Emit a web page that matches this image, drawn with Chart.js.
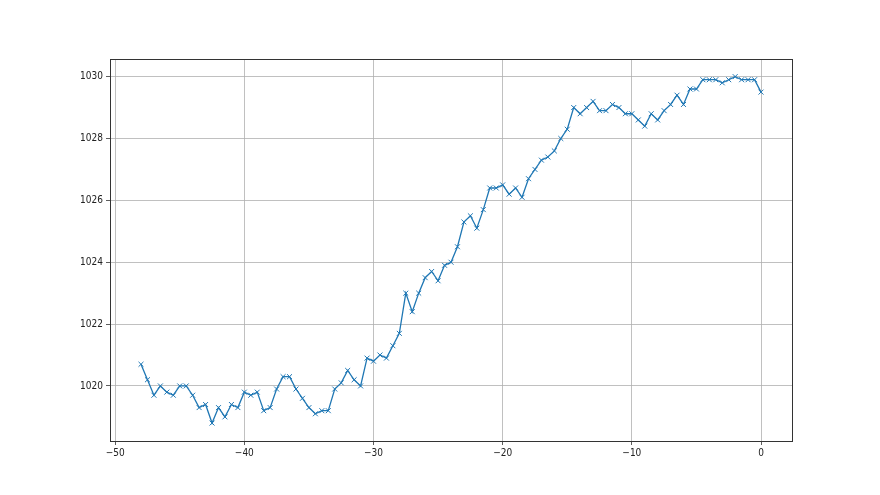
<!DOCTYPE html>
<html>
<head>
<meta charset="utf-8">
<script src="https://cdn.jsdelivr.net/npm/chart.js@4.4.0/dist/chart.umd.min.js"></script>
<style>
  body { margin: 0; background: #fff; }
  #wrap { width: 880px; height: 495px; }
</style>
</head>
<body>
<div id="wrap"><canvas id="chart"></canvas></div>
<script>
// tiempo (x) y presion (y)
var horas = [
  -48, -47.5, -47, -46.5, -46, -45.5, -45, -44.5, -44, -43.5,
  -43, -42.5, -42, -41.5, -41, -40.5, -40, -39.5, -39, -38.5,
  -38, -37.5, -37, -36.5, -36, -35.5, -35, -34.5, -34, -33.5,
  -33, -32.5, -32, -31.5, -31, -30.5, -30, -29.5, -29, -28.5,
  -28, -27.5, -27, -26.5, -26, -25.5, -25, -24.5, -24, -23.5,
  -23, -22.5, -22, -21.5, -21, -20.5, -20, -19.5, -19, -18.5,
  -18, -17.5, -17, -16.5, -16, -15.5, -15, -14.5, -14, -13.5,
  -13, -12.5, -12, -11.5, -11, -10.5, -10, -9.5, -9, -8.5,
  -8, -7.5, -7, -6.5, -6, -5.5, -5, -4.5, -4, -3.5,
  -3, -2.5, -2, -1.5, -1, -0.5, 0
];
var presion = [
  1020.7, 1020.2, 1019.7, 1020.0, 1019.8, 1019.7, 1020.0, 1020.0, 1019.7, 1019.3,
  1019.4, 1018.8, 1019.3, 1019.0, 1019.4, 1019.3, 1019.8, 1019.7, 1019.8, 1019.2,
  1019.3, 1019.9, 1020.3, 1020.3, 1019.9, 1019.6, 1019.3, 1019.1, 1019.2, 1019.2,
  1019.9, 1020.1, 1020.5, 1020.2, 1020.0, 1020.9, 1020.8, 1021.0, 1020.9, 1021.3,
  1021.7, 1023.0, 1022.4, 1023.0, 1023.5, 1023.7, 1023.4, 1023.9, 1024.0, 1024.5,
  1025.3, 1025.5, 1025.1, 1025.7, 1026.4, 1026.4, 1026.5, 1026.2, 1026.4, 1026.1,
  1026.7, 1027.0, 1027.3, 1027.4, 1027.6, 1028.0, 1028.3, 1029.0, 1028.8, 1029.0,
  1029.2, 1028.9, 1028.9, 1029.1, 1029.0, 1028.8, 1028.8, 1028.6, 1028.4, 1028.8,
  1028.6, 1028.9, 1029.1, 1029.4, 1029.1, 1029.6, 1029.6, 1029.9, 1029.9, 1029.9,
  1029.8, 1029.9, 1030.0, 1029.9, 1029.9, 1029.9, 1029.5
];
var ticksX = [-50, -40, -30, -20, -10, 0];
var ticksY = [1020, 1022, 1024, 1026, 1028, 1030];

var puntos = horas.map(function (h, i) {
  return { x: h, y: presion[i] };
});

// marco completo alrededor del area
var marco = {
  id: 'marco',
  afterDraw: function (chart) {
    var a = chart.chartArea, ctx = chart.ctx;
    ctx.save();
    ctx.strokeStyle = '#333';
    ctx.lineWidth = 1;
    ctx.strokeRect(Math.round(a.left) + 0.5, Math.round(a.top) + 0.5,
      Math.round(a.right - a.left), Math.round(a.bottom - a.top));
    ctx.restore();
  }
};

function menos(v) {
  return String(v).replace('-', '\u2212');
}

var fuente = { family: 'DejaVu Sans Condensed, DejaVu Sans', size: 10 };

new Chart(document.getElementById('chart'), {
  type: 'line',
  data: {
    datasets: [{
      data: puntos,
      borderColor: '#1f77b4',
      borderWidth: 1.3,
      tension: 0,
      pointStyle: 'crossRot',
      pointRadius: 3.5,
      pointBorderWidth: 1,
      pointBorderColor: '#1f77b4',
      pointBackgroundColor: '#1f77b4',
      fill: false
    }]
  },
  options: {
    responsive: true,
    maintainAspectRatio: false,
    animation: false,
    layout: { padding: { left: 0, right: 88, top: 59, bottom: 24 } },
    plugins: { legend: { display: false }, tooltip: { enabled: false } },
    scales: {
      x: {
        type: 'linear',
        min: -50.4,
        max: 2.4,
        afterBuildTicks: function (s) { s.ticks = ticksX.map(function (v) { return { value: v }; }); },
        afterFit: function (s) { s.height = 30; },
        grid: { color: '#b0b0b0', lineWidth: 0.8, tickColor: '#333', tickLength: 4 },
        border: { display: false },
        ticks: { color: '#222', font: fuente, padding: 2, maxRotation: 0, callback: menos }
      },
      y: {
        type: 'linear',
        min: 1018.22,
        max: 1030.57,
        afterBuildTicks: function (s) { s.ticks = ticksY.map(function (v) { return { value: v }; }); },
        afterFit: function (s) { s.width = 110; },
        grid: { color: '#b0b0b0', lineWidth: 0.8, tickColor: '#333', tickLength: 4 },
        border: { display: false },
        ticks: { color: '#222', font: fuente, padding: 3, callback: menos }
      }
    }
  },
  plugins: [marco]
});
</script>
</body>
</html>
